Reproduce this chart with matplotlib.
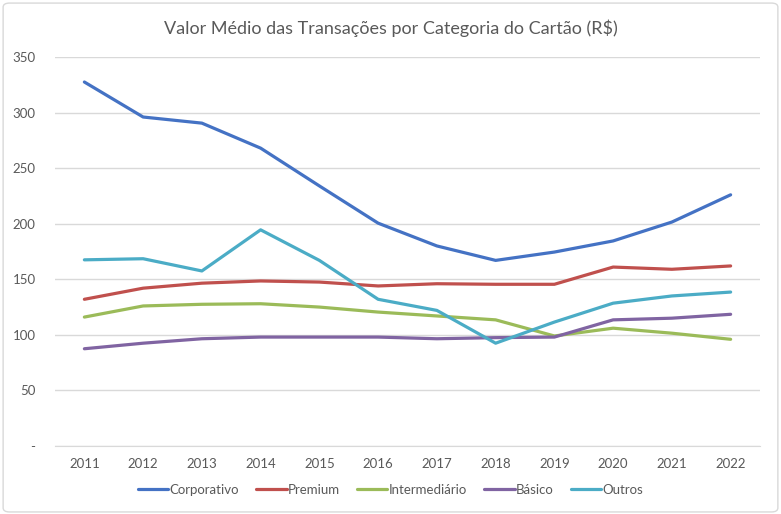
import numpy as np
import matplotlib.pyplot as plt
from matplotlib.patches import FancyBboxPatch

anos = [2011, 2012, 2013, 2014, 2015, 2016, 2017, 2018, 2019, 2020, 2021, 2022]
corporativo = [327.5, 296, 290.5, 268, 234, 200.5, 180, 167, 174.5, 184.5, 201.5, 226]
premium = [132, 142, 146.5, 148.5, 147.5, 144, 146, 145.5, 145.5, 161, 159, 162]
intermediario = [116, 126, 127.5, 128, 125, 120.5, 117, 113.5, 99, 106, 101.5, 96]
basico = [87.5, 92.5, 96.5, 98, 98, 98, 96.5, 97.5, 98, 113.5, 115, 118.5]
outros = [167.5, 168.5, 157.5, 194.5, 167, 132, 122, 92.5, 111.5, 128.5, 135, 138.5]

series = [("Corporativo", corporativo, "#4472c4"),
          ("Premium", premium, "#c0504d"),
          ("Intermediário", intermediario, "#9bbb59"),
          ("Básico", basico, "#8064a2"),
          ("Outros", outros, "#4bacc6")]

plt.rcParams['font.family'] = ['Lato', 'DejaVu Sans']
cinza = "#595959"

fig = plt.figure(figsize=(7.81, 5.14), dpi=100)
moldura = FancyBboxPatch((0.004, 0.004), 0.992, 0.99, boxstyle="round,pad=0,rounding_size=0.008",
                         transform=fig.transFigure, fc="none", ec="#d9d9d9", lw=1, zorder=10)
fig.patches.append(moldura)
ax = fig.add_axes([55/781, 1-446/514, 705/781, 389/514])

x = np.arange(len(anos))
for nome, vals, cor in series:
    ax.plot(x, vals, color=cor, lw=2.3, label=nome, solid_capstyle='round')

ax.set_xlim(-0.5, len(anos)-0.5)
ax.set_ylim(0, 350)
ax.set_yticks(range(0, 351, 50))
ax.set_yticklabels(["-"] + [str(v) for v in range(50, 351, 50)])
ax.set_xticks(x)
ax.set_xticklabels([str(a) for a in anos])
ax.grid(axis='y', color="#d9d9d9", lw=1)
ax.set_axisbelow(True)
for s in ['top', 'right', 'left']:
    ax.spines[s].set_visible(False)
ax.spines['bottom'].set_color("#d9d9d9")
ax.tick_params(axis='both', length=0, colors=cinza, labelsize=9.5)
ax.tick_params(axis='y', pad=14)
ax.tick_params(axis='x', pad=9)

fig.text(0.5, 1-28/514, "Valor Médio das Transações por Categoria do Cartão (R$)",
         ha='center', va='center', fontsize=13, color=cinza)
fig.legend(loc='center', bbox_to_anchor=(0.5, 1-490/514), ncol=5, frameon=False,
           fontsize=9.5, labelcolor=cinza, handlelength=2.3, handletextpad=0.1, columnspacing=1.3)

fig.savefig("out.png", dpi=100)
